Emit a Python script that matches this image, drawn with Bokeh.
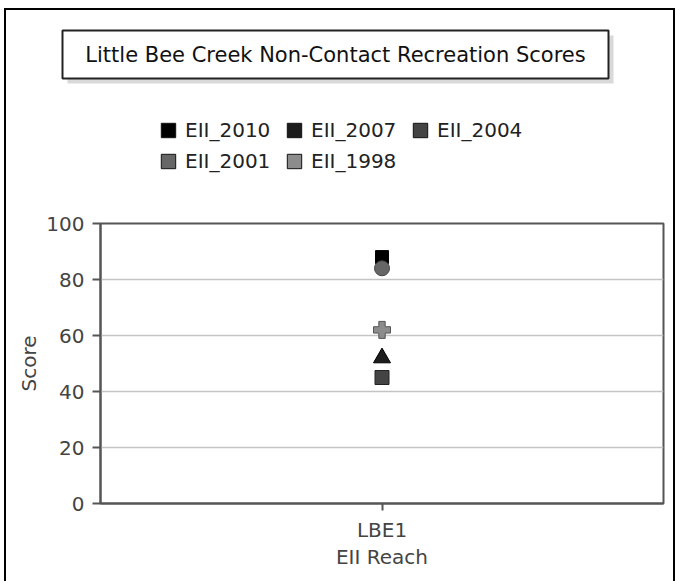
from bokeh.plotting import figure
from bokeh.layouts import column, row
from bokeh.models import (FactorRange, Range1d, FixedTicker, Legend, LegendItem, Label)
from bokeh.embed import file_html
from bokeh.resources import INLINE

# ---- data ----
reach = ["LBE1"]
series = ["EII_2010", "EII_2007", "EII_2004", "EII_2001", "EII_1998"]
scores = [88, 52, 45, 84, 62]
markers = ["square", "triangle", "square", "circle", "plus"]
sizes = [13, 17, 14, 15, 17]
colors = ["#000000", "#1c1c1c", "#444444", "#666666", "#8c8c8c"]
edge_colors = ["#000000", "#000000", "#222222", "#444444", "#555555"]
y_ticks = [0, 20, 40, 60, 80, 100]
title_text = "Little Bee Creek Non-Contact Recreation Scores"
x_label = "EII Reach"
y_label = "Score"

FONT = "DejaVu Sans"
W = 675
TOP_H = 205
MAIN_H = 581 - TOP_H
NAN = float("nan")


def page_frame(top_line):
    layers = ["linear-gradient(#000,#000) 4px %dpx / 2px 100%% no-repeat" % top_line,
              "linear-gradient(#000,#000) 673px %dpx / 2px 100%% no-repeat" % top_line]
    if top_line > 0:
        layers.append("linear-gradient(#000,#000) 4px %dpx / 671px 2px no-repeat" % top_line)
    return {"background": ", ".join(layers + ["#ffffff"])}


# ---------- header: boxed title + legend ----------
head = figure(width=W, height=TOP_H, x_range=Range1d(0, W), y_range=Range1d(TOP_H, 0),
              output_backend="svg", toolbar_location=None, x_axis_type=None,
              y_axis_type=None, min_border=0, title=None)
head.grid.visible = False
head.outline_line_color = None
head.background_fill_alpha = 0
head.border_fill_alpha = 0
head.styles = page_frame(8)

# title box (shadow + box) in pixel space of the header
head.quad(left=[67], right=[613], top=[35], bottom=[83], fill_color="#d9d9d9",
          line_color=None)
head.quad(left=[62], right=[608], top=[30], bottom=[78], fill_color="white",
          line_color="#222222", line_width=2)
head.add_layout(Label(x=335, y=54, text=title_text, text_align="center",
                      text_baseline="middle", text_font=FONT, text_font_size="21px",
                      text_color="#111111"))

# legend swatches: proxies without drawable geometry
items = []
for s, c in zip(series, colors):
    r = head.quad(left=[NAN], right=[NAN], top=[NAN], bottom=[NAN], fill_color=c,
                  line_color="#111111", line_width=1)
    items.append(LegendItem(label=s, renderers=[r]))
legend = Legend(items=items, location=(159, 32), orientation="horizontal", ncols=3,
                glyph_width=18, glyph_height=18, label_standoff=8, label_width=93,
                label_height=24, spacing=7, padding=0, margin=0,
                border_line_color=None, background_fill_alpha=0,
                label_text_font=FONT, label_text_font_size="20px",
                label_text_color="#222222")
head.add_layout(legend)

# ---------- main chart ----------
p = figure(width=W, height=MAIN_H, x_range=FactorRange(factors=reach, range_padding=0),
           y_range=Range1d(0, 100), output_backend="svg", toolbar_location=None,
           min_border_left=100, min_border_right=12, min_border_top=18,
           min_border_bottom=78, title=None)
p.background_fill_color = "white"
p.border_fill_alpha = 0
p.styles = page_frame(0)
p.outline_line_color = "#555555"
p.outline_line_width = 2

p.yaxis.ticker = FixedTicker(ticks=y_ticks)
for ax in (p.xaxis[0], p.yaxis[0]):
    ax.axis_line_color = "#555555"
    ax.axis_line_width = 2
    ax.major_tick_line_color = "#555555"
    ax.major_tick_line_width = 2
    ax.minor_tick_line_color = None
    ax.major_tick_in = 0
    ax.major_label_text_font = FONT
    ax.major_label_text_font_size = "20px"
    ax.major_label_text_color = "#444444"
    ax.axis_label_text_font = FONT
    ax.axis_label_text_font_size = "20px"
    ax.axis_label_text_color = "#444444"
    ax.axis_label_text_font_style = "normal"
p.yaxis.major_tick_out = 8
p.yaxis.major_label_standoff = 8
p.yaxis.axis_label = y_label
p.yaxis.axis_label_standoff = 2
p.xaxis.major_tick_out = 7
p.xaxis.major_label_standoff = 7
p.xaxis.axis_label = x_label
p.xaxis.axis_label_standoff = 0

p.xgrid.grid_line_color = None
p.ygrid.grid_line_color = "#c4c4c4"
p.ygrid.grid_line_width = 1.5

for s, v, m, sz, c, ec in zip(series, scores, markers, sizes, colors, edge_colors):
    p.scatter(x=[reach[0]], y=[v], marker=m, size=sz, fill_color=c, line_color=ec)

# wrap the header in its own row so its frame is not aligned to the chart frame
layout = column(row(head), p, spacing=0)
open("out.html", "w").write(file_html(layout, INLINE))
